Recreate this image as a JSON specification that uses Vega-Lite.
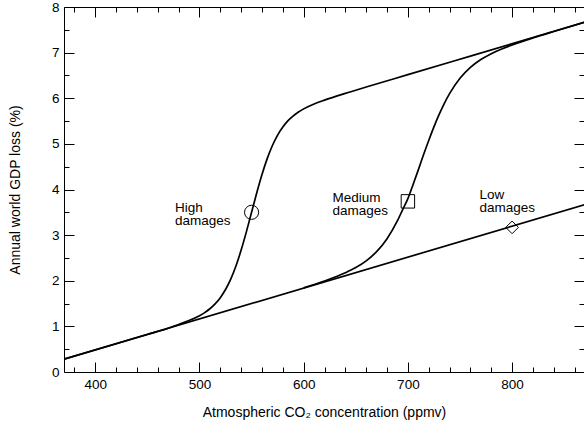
{
  "$schema": "https://vega.github.io/schema/vega-lite/v6.json",
  "autosize": {"type": "none"},
  "padding": {"left": 64, "top": 7, "right": 0, "bottom": 58},
  "width": 520,
  "height": 365,
  "background": "white",
  "config": {
    "view": {"stroke": null},
    "font": "Liberation Sans",
    "axis": {
      "domainColor": "black", "tickColor": "black", "labelColor": "black", "titleColor": "black",
      "labelFont": "Liberation Sans", "titleFont": "Liberation Sans",
      "labelFontSize": 13.5, "titleFontSize": 14, "titleFontWeight": "normal",
      "grid": false, "domainWidth": 1, "tickWidth": 1
    }
  },
  "datasets": {
    "low": [
      {"co2": 370, "loss": 0.28},
      {"co2": 870, "loss": 3.67}
    ],
    "curves": [
      {"series": "High", "co2": 370, "loss": 0.28},
      {"series": "High", "co2": 420, "loss": 0.619},
      {"series": "High", "co2": 450, "loss": 0.822},
      {"series": "High", "co2": 470, "loss": 0.96},
      {"series": "High", "co2": 480, "loss": 1.041},
      {"series": "High", "co2": 490, "loss": 1.127},
      {"series": "High", "co2": 500, "loss": 1.234},
      {"series": "High", "co2": 505, "loss": 1.302},
      {"series": "High", "co2": 510, "loss": 1.386},
      {"series": "High", "co2": 515, "loss": 1.492},
      {"series": "High", "co2": 520, "loss": 1.63},
      {"series": "High", "co2": 525, "loss": 1.808},
      {"series": "High", "co2": 530, "loss": 2.037},
      {"series": "High", "co2": 535, "loss": 2.324},
      {"series": "High", "co2": 540, "loss": 2.672},
      {"series": "High", "co2": 545, "loss": 3.071},
      {"series": "High", "co2": 550, "loss": 3.5},
      {"series": "High", "co2": 555, "loss": 3.929},
      {"series": "High", "co2": 560, "loss": 4.328},
      {"series": "High", "co2": 565, "loss": 4.676},
      {"series": "High", "co2": 570, "loss": 4.964},
      {"series": "High", "co2": 575, "loss": 5.193},
      {"series": "High", "co2": 580, "loss": 5.37},
      {"series": "High", "co2": 585, "loss": 5.508},
      {"series": "High", "co2": 590, "loss": 5.614},
      {"series": "High", "co2": 595, "loss": 5.699},
      {"series": "High", "co2": 600, "loss": 5.767},
      {"series": "High", "co2": 610, "loss": 5.874},
      {"series": "High", "co2": 620, "loss": 5.959},
      {"series": "High", "co2": 640, "loss": 6.108},
      {"series": "High", "co2": 660, "loss": 6.246},
      {"series": "High", "co2": 700, "loss": 6.517},
      {"series": "High", "co2": 760, "loss": 6.924},
      {"series": "High", "co2": 820, "loss": 7.331},
      {"series": "High", "co2": 870, "loss": 7.67},
      {"series": "Medium", "co2": 600, "loss": 1.845},
      {"series": "Medium", "co2": 620, "loss": 1.995},
      {"series": "Medium", "co2": 640, "loss": 2.174},
      {"series": "Medium", "co2": 650, "loss": 2.288},
      {"series": "Medium", "co2": 660, "loss": 2.436},
      {"series": "Medium", "co2": 670, "loss": 2.638},
      {"series": "Medium", "co2": 680, "loss": 2.922},
      {"series": "Medium", "co2": 690, "loss": 3.316},
      {"series": "Medium", "co2": 695, "loss": 3.56},
      {"series": "Medium", "co2": 700, "loss": 3.8},
      {"series": "Medium", "co2": 705, "loss": 4.11},
      {"series": "Medium", "co2": 710, "loss": 4.43},
      {"series": "Medium", "co2": 715, "loss": 4.76},
      {"series": "Medium", "co2": 720, "loss": 5.075},
      {"series": "Medium", "co2": 725, "loss": 5.372},
      {"series": "Medium", "co2": 730, "loss": 5.645},
      {"series": "Medium", "co2": 735, "loss": 5.889},
      {"series": "Medium", "co2": 740, "loss": 6.101},
      {"series": "Medium", "co2": 750, "loss": 6.437},
      {"series": "Medium", "co2": 760, "loss": 6.675},
      {"series": "Medium", "co2": 770, "loss": 6.848},
      {"series": "Medium", "co2": 780, "loss": 6.977},
      {"series": "Medium", "co2": 790, "loss": 7.081},
      {"series": "Medium", "co2": 800, "loss": 7.168},
      {"series": "Medium", "co2": 820, "loss": 7.322},
      {"series": "Medium", "co2": 840, "loss": 7.464},
      {"series": "Medium", "co2": 870, "loss": 7.67}
    ],
    "markers": [
      {"series": "High", "co2": 550, "loss": 3.5},
      {"series": "Medium", "co2": 700, "loss": 3.74},
      {"series": "Low", "co2": 800, "loss": 3.17}
    ],
    "labels": [
      {"label": "High\ndamages", "co2": 476.5, "loss": 3.59},
      {"label": "Medium\ndamages", "co2": 627.7, "loss": 3.81},
      {"label": "Low\ndamages", "co2": 768.7, "loss": 3.88}
    ]
  },
  "layer": [
    {
      "data": {"name": "low"},
      "mark": {"type": "line", "color": "black", "strokeWidth": 1.7, "clip": true},
      "encoding": {
        "x": {"field": "co2", "type": "quantitative",
              "scale": {"domain": [370, 869], "nice": false, "zero": false},
              "axis": {"orient": "bottom", "values": [400, 500, 600, 700, 800], "tickSize": -10, "labelPadding": 15, "format": "d",
                       "title": "Atmospheric CO₂ concentration (ppmv)", "titlePadding": 15}},
        "y": {"field": "loss", "type": "quantitative",
              "scale": {"domain": [0, 8], "nice": false},
              "axis": {"orient": "left", "values": [0, 1, 2, 3, 4, 5, 6, 7, 8], "tickSize": -10, "labelPadding": 15,
                       "title": "Annual world GDP loss (%)", "titlePadding": 29}}
      }
    },
    {
      "data": {"name": "curves"},
      "mark": {"type": "line", "color": "black", "strokeWidth": 1.7, "interpolate": "monotone", "clip": true},
      "encoding": {
        "detail": {"field": "series", "type": "nominal"},
        "x": {"field": "co2", "type": "quantitative",
              "axis": {"orient": "bottom", "values": [380, 400, 420, 440, 460, 480, 500, 520, 540, 560, 580, 600, 620, 640, 660, 680, 700, 720, 740, 760, 780, 800, 820, 840, 860],
                       "tickSize": -5, "labels": false, "domain": false, "title": null}},
        "y": {"field": "loss", "type": "quantitative",
              "axis": {"orient": "left", "values": [0.5, 1.5, 2.5, 3.5, 4.5, 5.5, 6.5, 7.5],
                       "tickSize": -5, "labels": false, "domain": false, "title": null}}
      }
    },
    {
      "data": {"name": "markers"},
      "mark": {"type": "point", "filled": false, "color": "black", "strokeWidth": 1, "opacity": 1},
      "encoding": {
        "x": {"field": "co2", "type": "quantitative",
              "axis": {"orient": "top", "values": [400, 500, 600, 700, 800], "tickSize": -10, "labels": false, "domain": true, "title": null}},
        "y": {"field": "loss", "type": "quantitative",
              "axis": {"orient": "right", "values": [0, 1, 2, 3, 4, 5, 6, 7, 8], "tickSize": -10, "labels": false, "domain": false, "title": null}},
        "shape": {"field": "series", "type": "nominal", "scale": {"domain": ["High", "Medium", "Low"], "range": ["circle", "square", "diamond"]}, "legend": null},
        "size": {"field": "series", "type": "nominal", "scale": {"domain": ["High", "Medium", "Low"], "range": [200, 160, 205]}, "legend": null}
      }
    },
    {
      "data": {"name": "labels"},
      "mark": {"type": "text", "align": "left", "baseline": "middle", "lineBreak": "\n", "lineHeight": 13, "fontSize": 13.5, "font": "Liberation Sans", "color": "black"},
      "encoding": {
        "text": {"field": "label", "type": "nominal"},
        "x": {"field": "co2", "type": "quantitative",
              "axis": {"orient": "top", "values": [380, 400, 420, 440, 460, 480, 500, 520, 540, 560, 580, 600, 620, 640, 660, 680, 700, 720, 740, 760, 780, 800, 820, 840, 860],
                       "tickSize": -5, "labels": false, "domain": false, "title": null}},
        "y": {"field": "loss", "type": "quantitative",
              "axis": {"orient": "right", "values": [0.5, 1.5, 2.5, 3.5, 4.5, 5.5, 6.5, 7.5],
                       "tickSize": -5, "labels": false, "domain": false, "title": null}}
      }
    }
  ],
  "resolve": {"axis": {"x": "independent", "y": "independent"}}
}
